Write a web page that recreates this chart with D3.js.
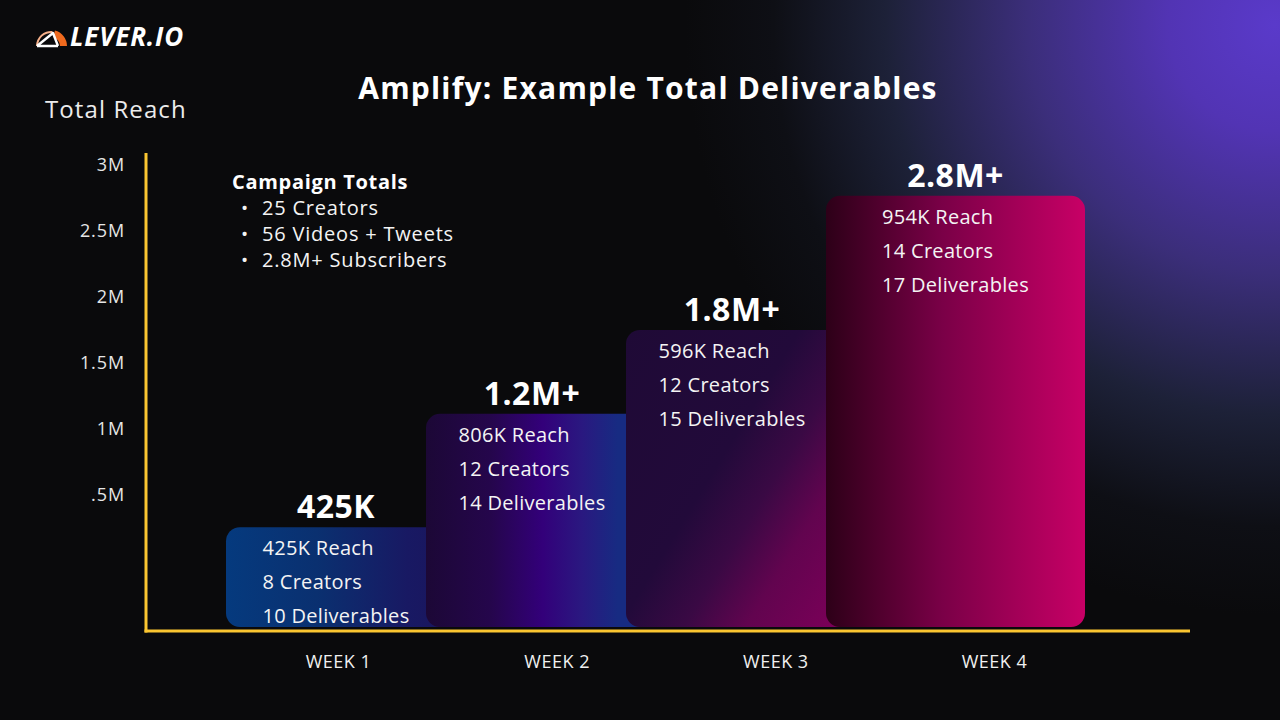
<!DOCTYPE html>
<html>
<head>
<meta charset="utf-8">
<script src="https://cdn.jsdelivr.net/npm/d3@7/dist/d3.min.js"></script>
<style>
  html, body { margin: 0; padding: 0; background: #0a0a0c; }
  svg { display: block; }
  text { font-family: "Open Sans", "Noto Sans", sans-serif; }
</style>
</head>
<body>
<svg id="chart" width="1280" height="720"></svg>
<script>
// ---------- data ----------
const weeks = ["WEEK 1", "WEEK 2", "WEEK 3", "WEEK 4"];
const weeklyReach = [425000, 806000, 596000, 954000];
const reachLabels = ["425K", "806K", "596K", "954K"];
const creators = [8, 12, 12, 14];
const deliverables = [10, 14, 15, 17];
const totalLabels = ["425K", "1.2M+", "1.8M+", "2.8M+"];
const yTickLabels = ["3M", "2.5M", "2M", "1.5M", "1M", ".5M"];
const campaignTotals = ["25 Creators", "56 Videos + Tweets", "2.8M+ Subscribers"];
const chartTitle = "Amplify: Example Total Deliverables";
const yTitle = "Total Reach";

// ---------- setup ----------
const W = 1280, H = 720;
const svg = d3.select("#chart");
const defs = svg.append("defs");

const cumulative = Array.from(d3.cumsum(weeklyReach));

const y = d3.scaleLinear().domain([0, 3000000]).range([587, 165]);
const yTickPos = d3.scalePoint().domain(yTickLabels).range([165, 495]);
const xBar = d3.scalePoint().domain(weeks).range([226, 826]);
const xWeek = d3.scalePoint().domain(weeks).range([338, 994]);
const barW = 259, baseY = 627;
const axisX = 146, axisY = 631;

// ---------- background ----------
const bg = defs.append("radialGradient").attr("id", "bgGlow")
  .attr("gradientUnits", "userSpaceOnUse")
  .attr("cx", 1275).attr("cy", 25).attr("r", 590);
[[0, "#5a3aca"], [0.18, "#5234b4"], [0.42, "#3b2e7a"], [0.66, "#1d2138"], [0.85, "#0e0f15"], [1, "#0a0a0c"]]
  .forEach(([o, c]) => bg.append("stop").attr("offset", o).attr("stop-color", c));
svg.append("rect").attr("width", W).attr("height", H).attr("fill", "#0a0a0c");
svg.append("rect").attr("width", W).attr("height", H).attr("fill", "url(#bgGlow)");

// ---------- logo ----------
const logo = svg.append("g");
logo.append("path")
  .attr("d", d3.arc()({innerRadius: 13, outerRadius: 15, startAngle: -Math.PI / 2, endAngle: 0.1}))
  .attr("transform", "translate(51,46)").attr("fill", "#f6b08a");
logo.append("path")
  .attr("d", d3.arc()({innerRadius: 9, outerRadius: 16, startAngle: 0.25, endAngle: Math.PI / 2}))
  .attr("transform", "translate(51,46)").attr("fill", "#f06a1e");
logo.append("path")
  .attr("d", "M37,46 L58,46 M37,46 L53,33 L58,46")
  .attr("stroke", "#ffffff").attr("stroke-width", 2.4).attr("fill", "none").attr("stroke-linejoin", "round");
logo.append("text").attr("x", 70).attr("y", 46)
  .attr("fill", "#ffffff").attr("font-size", 26).attr("font-weight", 700).attr("font-style", "italic")
  .attr("letter-spacing", 0.8)
  .text("LEVER.IO");

// ---------- titles ----------
svg.append("text").attr("x", 648).attr("y", 99).attr("text-anchor", "middle")
  .attr("fill", "#ffffff").attr("font-size", 30).attr("font-weight", 700).attr("letter-spacing", 1.2)
  .text(chartTitle);
svg.append("text").attr("x", 45).attr("y", 118)
  .attr("fill", "#ececec").attr("font-size", 24).attr("letter-spacing", 1.1)
  .text(yTitle);

// ---------- gradients for bars ----------
const barGrads = [
  {x2: 1, y2: 0, stops: [[0, "#053a7e"], [0.35, "#0a3070"], [0.7, "#181963"], [1, "#1c1259"]]},
  {x2: 1, y2: 0, stops: [[0, "#1c0836"], [0.25, "#25064c"], [0.45, "#33007a"], [0.6, "#2a1880"], [0.74, "#172b82"], [1, "#172b82"]]},
  {x2: 1, y2: 0.7, stops: [[0, "#1f0a36"], [0.45, "#220a3a"], [0.62, "#3a0944"], [0.78, "#62044f"], [1, "#7a0058"]]},
  {x2: 1, y2: 0, stops: [[0, "#2d0018"], [0.45, "#7a0047"], [1, "#c80066"]]}
];
barGrads.forEach((g, i) => {
  const lg = defs.append("linearGradient").attr("id", "barGrad" + i)
    .attr("x1", 0).attr("y1", 0).attr("x2", g.x2).attr("y2", g.y2);
  g.stops.forEach(([o, c]) => lg.append("stop").attr("offset", o).attr("stop-color", c));
});

// ---------- y tick labels ----------
const yAxis = d3.axisLeft(yTickPos).tickSize(0).tickPadding(21);
const gy = svg.append("g").attr("transform", `translate(${axisX},0)`).call(yAxis);
gy.select(".domain").remove();
gy.selectAll("text").attr("fill", "#e6e6e6").attr("font-size", 18).attr("letter-spacing", 0.9)
  .style("font-family", '"Open Sans", sans-serif');

// ---------- bars ----------
const barData = weeks.map((w, i) => ({
  week: w, i, value: cumulative[i],
  left: xBar(w),
  visRight: i < weeks.length - 1 ? Math.min(xBar(weeks[i + 1]) + 12, xBar(w) + barW) : xBar(w) + barW
}));

svg.append("g").selectAll("rect.bar").data(barData).join("rect")
  .attr("class", "bar")
  .attr("x", d => d.left)
  .attr("y", d => y(d.value))
  .attr("width", barW)
  .attr("height", d => baseY - y(d.value))
  .attr("rx", 14).attr("ry", 14)
  .attr("fill", d => `url(#barGrad${d.i})`);

const centerOf = d => (d.left + d.visRight) / 2 + (d.i === 0 ? 4 : 0);

// total labels above bars
svg.selectAll("text.total").data(barData).join("text")
  .attr("class", "total")
  .attr("x", d => centerOf(d))
  .attr("y", d => y(d.value) - 9)
  .attr("text-anchor", "middle")
  .attr("fill", "#ffffff").attr("font-size", 32).attr("font-weight", 700).attr("letter-spacing", 0.5)
  .text((d, i) => totalLabels[i]);

// detail text blocks inside bars
barData.forEach(d => {
  const lines = [`${reachLabels[d.i]} Reach`, `${creators[d.i]} Creators`, `${deliverables[d.i]} Deliverables`];
  const g = svg.append("g");
  const t = g.selectAll("text").data(lines).join("text")
    .attr("y", (l, k) => y(d.value) + 28 + k * 34)
    .attr("fill", "#f4f4f4").attr("font-size", 20).attr("letter-spacing", 0.3)
    .text(l => l);
  let maxW = 0;
  t.each(function () { maxW = Math.max(maxW, this.getComputedTextLength()); });
  t.attr("x", centerOf(d) - maxW / 2);
});

// ---------- axes lines ----------
svg.append("line").attr("x1", axisX).attr("x2", axisX).attr("y1", 153).attr("y2", axisY + 1.5)
  .attr("stroke", "#fbc631").attr("stroke-width", 3);
svg.append("line").attr("x1", axisX - 1.5).attr("x2", 1190).attr("y1", axisY).attr("y2", axisY)
  .attr("stroke", "#fbc631").attr("stroke-width", 3);

// week labels
const xAxis = d3.axisBottom(xWeek).tickSize(0).tickPadding(24);
const gx = svg.append("g").attr("transform", `translate(0,${axisY})`).call(xAxis);
gx.select(".domain").remove();
gx.selectAll("text").attr("fill", "#f0f0f0").attr("font-size", 18).attr("letter-spacing", 0.5)
  .style("font-family", '"Open Sans", sans-serif');

// ---------- campaign totals ----------
svg.append("text").attr("x", 232).attr("y", 189)
  .attr("fill", "#ffffff").attr("font-size", 20).attr("font-weight", 700).attr("letter-spacing", 0.7)
  .text("Campaign Totals");
const ct = svg.append("g");
ct.selectAll("text.bullet").data(campaignTotals).join("text").attr("class", "bullet")
  .attr("x", 241).attr("y", (d, i) => 215 + i * 26)
  .attr("fill", "#f4f4f4").attr("font-size", 19).text("•");
ct.selectAll("text.item").data(campaignTotals).join("text").attr("class", "item")
  .attr("x", 262).attr("y", (d, i) => 215 + i * 26)
  .attr("fill", "#f4f4f4").attr("font-size", 20).attr("letter-spacing", 0.8).text(d => d);
</script>
</body>
</html>
